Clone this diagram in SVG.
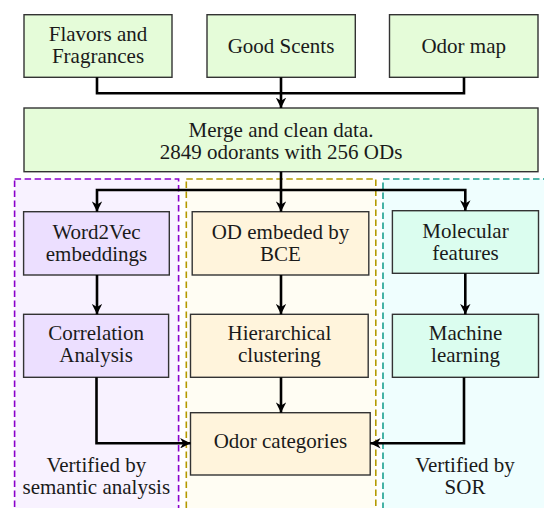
<svg xmlns="http://www.w3.org/2000/svg" width="544" height="508" viewBox="0 0 544 508">
<defs>
<marker id="ah" viewBox="0 0 10 10" refX="10" refY="5" markerWidth="4" markerHeight="4" orient="auto" markerUnits="strokeWidth">
<path d="M0,0 L10,5 L0,10 L3,5 Z" fill="#000"/>
</marker>
</defs>
<style>
text{font-family:'Liberation Serif','DejaVu Serif',serif;font-size:21px;fill:#1a1a1a;text-anchor:middle}
.box{stroke:#333;stroke-width:1.4}
.g{fill:#e5fcd9}
.p{fill:#ecdfff}
.y{fill:#fff4dc}
.t{fill:#dbfdef}
.reg{stroke-width:1.6;stroke-dasharray:6.5 3.5}
.con{fill:none;stroke:#000;stroke-width:2.6}
</style>
<g id="regions">
<rect id="region-semantic" class="reg" x="14.6" y="179" width="164" height="340" fill="#f8f2ff" stroke="#8a00cc"/>
<rect id="region-bce" class="reg" x="186.3" y="179" width="189.5" height="340" fill="#fffdf3" stroke="#b39a00"/>
<rect id="region-sor" class="reg" x="383" y="179" width="175" height="340" fill="#effefe" stroke="#1aa090"/>
</g>
<g id="flavors"><rect class="box g" x="24" y="14.7" width="148" height="62.6"/><text x="98" y="40.7">Flavors and</text><text x="98" y="62.7">Fragrances</text></g>
<g id="goodscents"><rect class="box g" x="207" y="14.7" width="148.3" height="62.6"/><text x="281" y="53.3">Good Scents</text></g>
<g id="odormap"><rect class="box g" x="389.5" y="14.7" width="148.5" height="62.6"/><text x="463.7" y="53.3">Odor map</text></g>
<g id="merge"><rect class="box g" x="24" y="108" width="514" height="63.7"/><text x="281" y="136.7">Merge and clean data.</text><text x="281" y="159.3">2849 odorants with 256 ODs</text></g>
<g id="word2vec"><rect class="box p" x="23.6" y="211.7" width="145.7" height="63.3"/><text x="96.5" y="239">Word2Vec</text><text x="96.5" y="261">embeddings</text></g>
<g id="odembed"><rect class="box y" x="192.2" y="211.7" width="176.6" height="63.3"/><text x="280.5" y="239.3">OD embeded by</text><text x="280.5" y="261.3">BCE</text></g>
<g id="molecular"><rect class="box t" x="392.4" y="210.7" width="146.1" height="62.6"/><text x="465.5" y="238.3">Molecular</text><text x="465.5" y="260">features</text></g>
<g id="correlation"><rect class="box p" x="23.6" y="314.3" width="145" height="63"/><text x="96.1" y="340.3">Correlation</text><text x="96.1" y="362.3">Analysis</text></g>
<g id="hierarchical"><rect class="box y" x="190.5" y="314.3" width="177.7" height="63"/><text x="279.4" y="340.3">Hierarchical</text><text x="279.4" y="362.3">clustering</text></g>
<g id="machine"><rect class="box t" x="392.4" y="314.3" width="146.1" height="63"/><text x="465.5" y="340.3">Machine</text><text x="465.5" y="362.3">learning</text></g>
<g id="odorcat"><rect class="box y" x="190.5" y="412.7" width="179.7" height="62.3"/><text x="280.4" y="448.3">Odor categories</text></g>
<g id="labels">
<text x="96.3" y="471.7">Vertified by</text><text x="96.3" y="493.7">semantic analysis</text>
<text x="465" y="471.7">Vertified by</text><text x="465" y="493.7">SOR</text>
</g>
<g id="connectors">
<path class="con" d="M97,77.3 V93.3 H464 V77.3"/>
<path class="con" d="M281,77.3 V108" marker-end="url(#ah)"/>
<path class="con" d="M281,171.7 V190 H97 V211.7" marker-end="url(#ah)"/>
<path class="con" d="M281,190 V211.7" marker-end="url(#ah)"/>
<path class="con" d="M281,190 H465.3 V210.7" marker-end="url(#ah)"/>
<path class="con" d="M97,275 V314.3" marker-end="url(#ah)"/>
<path class="con" d="M281,275 V314.3" marker-end="url(#ah)"/>
<path class="con" d="M465.3,273.3 V314.3" marker-end="url(#ah)"/>
<path class="con" d="M96.5,377.3 V443.3 H190.5" marker-end="url(#ah)"/>
<path class="con" d="M281,377.3 V412.7" marker-end="url(#ah)"/>
<path class="con" d="M464,377.3 V443.3 H370.2" marker-end="url(#ah)"/>
</g>
</svg>
